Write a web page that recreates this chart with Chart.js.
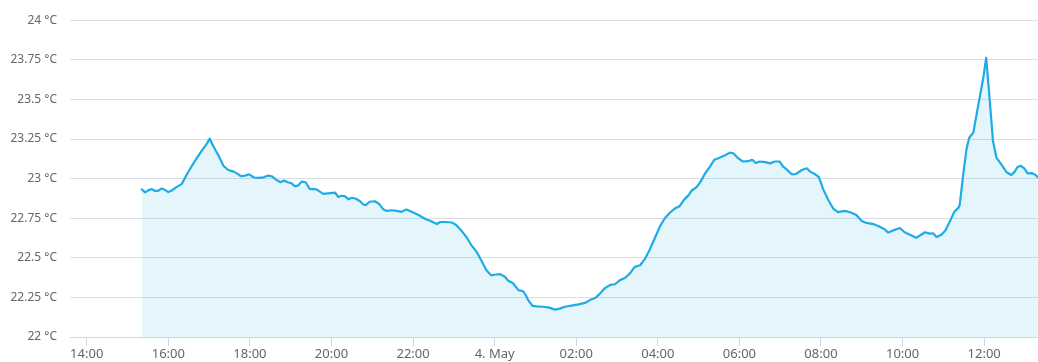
<!DOCTYPE html>
<html>
<head>
<meta charset="utf-8">
<title>Room temperature</title>
<script src="https://cdn.jsdelivr.net/npm/chart.js@4/dist/chart.umd.min.js"></script>
<style>
  html, body { margin: 0; padding: 0; background: #fff; }
  #wrap { width: 1038px; height: 362px; }
</style>
</head>
<body>
<div id="wrap"><canvas id="tempChart" width="1038" height="362"></canvas></div>
<script>
// readings, clock time (3 May -> 4 May) and temperature in °C
const times = [
  '15:21', '15:26', '15:31', '15:36', '15:40', '15:45', '15:50', '15:55', '16:00', '16:05',
  '16:12', '16:20', '16:29', '16:39', '16:49', '16:56', '17:01', '17:06', '17:14', '17:21',
  '17:28', '17:36', '17:41', '17:47', '17:53', '17:59', '18:06', '18:12', '18:20', '18:27',
  '18:32', '18:39', '18:45', '18:50', '18:56', '19:01', '19:06', '19:11', '19:16', '19:22',
  '19:28', '19:38', '19:48', '19:55', '20:05', '20:10', '20:15', '20:20', '20:25', '20:30',
  '20:36', '20:42', '20:47', '20:51', '20:56', '21:04', '21:10', '21:16', '21:21', '21:29',
  '21:36', '21:43', '21:50', '21:58', '22:08', '22:18', '22:25', '22:35', '22:40', '22:47',
  '22:57', '23:03', '23:11', '23:19', '23:26', '23:34', '23:41', '23:48', '23:55', '00:00',
  '00:08', '00:15', '00:20', '00:27', '00:35', '00:42', '00:46', '00:50', '00:56', '01:02',
  '01:11', '01:19', '01:29', '01:36', '01:43', '01:53', '02:03', '02:13', '02:20', '02:28',
  '02:35', '02:42', '02:50', '02:57', '03:04', '03:12', '03:19', '03:26', '03:34', '03:41',
  '03:48', '03:56', '04:03', '04:10', '04:18', '04:25', '04:32', '04:39', '04:45', '04:50',
  '04:57', '05:03', '05:09', '05:17', '05:23', '05:29', '05:39', '05:46', '05:51', '05:58',
  '06:05', '06:13', '06:19', '06:24', '06:30', '06:38', '06:45', '06:52', '06:59', '07:04',
  '07:09', '07:17', '07:23', '07:32', '07:39', '07:44', '07:51', '07:57', '08:03', '08:11',
  '08:18', '08:25', '08:35', '08:44', '08:52', '09:00', '09:07', '09:17', '09:24', '09:33',
  '09:39', '09:46', '09:56', '10:03', '10:11', '10:20', '10:25', '10:33', '10:40', '10:45',
  '10:50', '10:57', '11:03', '11:10', '11:16', '11:22', '11:24', '11:29', '11:34', '11:38',
  '11:44', '11:51', '11:59', '12:03', '12:07', '12:13', '12:18', '12:26', '12:33', '12:40',
  '12:45', '12:49', '12:54', '12:59', '13:04', '13:10', '13:15', '13:19'
];
const temps = [
  22.932, 22.913, 22.927, 22.934, 22.923, 22.923, 22.938, 22.929, 22.915, 22.925,
  22.946, 22.967, 23.040, 23.110, 23.175, 23.216, 23.252, 23.206, 23.144, 23.081,
  23.054, 23.044, 23.033, 23.015, 23.019, 23.027, 23.007, 23.004, 23.008, 23.019,
  23.015, 22.992, 22.977, 22.988, 22.977, 22.971, 22.952, 22.956, 22.981, 22.977,
  22.935, 22.932, 22.904, 22.907, 22.912, 22.884, 22.892, 22.888, 22.869, 22.879,
  22.873, 22.857, 22.836, 22.834, 22.854, 22.857, 22.840, 22.807, 22.796, 22.800,
  22.796, 22.790, 22.805, 22.790, 22.770, 22.745, 22.734, 22.713, 22.726, 22.726,
  22.723, 22.709, 22.672, 22.628, 22.578, 22.534, 22.478, 22.422, 22.389, 22.393,
  22.397, 22.380, 22.355, 22.339, 22.296, 22.289, 22.262, 22.228, 22.196, 22.193,
  22.191, 22.187, 22.173, 22.179, 22.191, 22.198, 22.206, 22.215, 22.233, 22.246,
  22.274, 22.308, 22.329, 22.333, 22.358, 22.374, 22.402, 22.443, 22.453, 22.493,
  22.551, 22.628, 22.697, 22.748, 22.786, 22.811, 22.826, 22.869, 22.894, 22.925,
  22.946, 22.981, 23.029, 23.077, 23.119, 23.129, 23.147, 23.164, 23.160, 23.129,
  23.108, 23.110, 23.119, 23.098, 23.108, 23.104, 23.096, 23.108, 23.108, 23.077,
  23.060, 23.027, 23.029, 23.054, 23.065, 23.044, 23.029, 23.010, 22.935, 22.863,
  22.811, 22.788, 22.796, 22.786, 22.770, 22.732, 22.720, 22.713, 22.701, 22.682,
  22.659, 22.673, 22.688, 22.661, 22.645, 22.626, 22.639, 22.661, 22.653, 22.655,
  22.632, 22.645, 22.672, 22.734, 22.790, 22.815, 22.832, 23.019, 23.185, 23.258,
  23.289, 23.456, 23.643, 23.763, 23.559, 23.237, 23.133, 23.085, 23.040, 23.023,
  23.044, 23.073, 23.081, 23.065, 23.033, 23.035, 23.025, 23.008
];

// x axis: hours counted from 3 May 00:00, ticks every two hours
const hourTicks = [14, 16, 18, 20, 22, 24, 26, 28, 30, 32, 34, 36];
const xMin = 13.59;
const xMax = 37.32;
const yTicks = [22, 22.25, 22.5, 22.75, 23, 23.25, 23.5, 23.75, 24];

// turn clock times into a running hour count across midnight
const points = [];
let dayOffset = 0;
let prev = -1;
times.forEach((t, i) => {
  const [hh, mm] = t.split(':').map(Number);
  let h = hh + mm / 60;
  if (h < prev) dayOffset += 24;
  prev = h;
  points.push({ x: h + dayOffset, y: temps[i] });
});

const labelFont = { family: '"Noto Sans", "Open Sans", sans-serif', size: 12 };

const ctx = document.getElementById('tempChart').getContext('2d');
const tempChart = new Chart(ctx, {
  type: 'line',
  data: {
    datasets: [{
      label: 'Temperature',
      data: points,
      borderColor: '#1eabe6',
      backgroundColor: 'rgba(30, 171, 230, 0.12)',
      borderWidth: 2.2,
      borderJoinStyle: 'round',
      borderCapStyle: 'round',
      pointRadius: 0,
      tension: 0,
      fill: 'start'
    }]
  },
  options: {
    responsive: false,
    animation: false,
    layout: { padding: { top: 15, right: 0, left: 0, bottom: 0 } },
    plugins: {
      legend: { display: false },
      tooltip: { enabled: false }
    },
    scales: {
      x: {
        type: 'linear',
        min: xMin,
        max: xMax,
        afterBuildTicks: axis => { axis.ticks = hourTicks.map(v => ({ value: v })); },
        afterFit: axis => { axis.height = 25; },
        border: { display: true, color: '#ccd6eb', width: 1 },
        grid: {
          drawOnChartArea: false,
          drawTicks: true,
          tickLength: 9,
          tickColor: '#ccd6eb'
        },
        ticks: {
          autoSkip: false,
          maxRotation: 0,
          padding: 0,
          color: '#666',
          font: { family: labelFont.family, size: 13 },
          callback: v => {
            const h = v % 24;
            if (v === 24) return '4. May';
            return String(h).padStart(2, '0') + ':00';
          }
        }
      },
      y: {
        min: 22,
        max: 24,
        afterBuildTicks: axis => { axis.ticks = yTicks.map(v => ({ value: v })); },
        afterFit: axis => { axis.width = 70; },
        border: { display: false },
        grid: {
          color: '#d8dee5',
          lineWidth: 1,
          drawTicks: false
        },
        ticks: {
          padding: 13,
          color: '#666',
          font: labelFont,
          callback: v => v + ' °C'
        }
      }
    }
  }
});
</script>
</body>
</html>
